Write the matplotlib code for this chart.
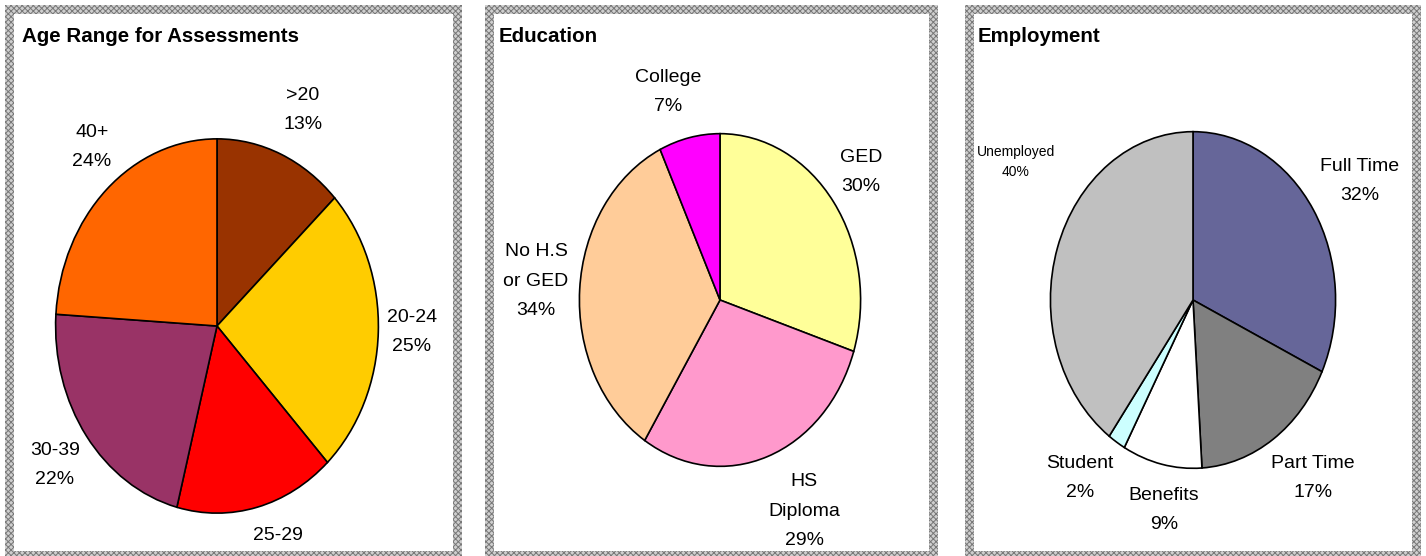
#!/usr/bin/env python3
"""Three pie panels: age range, education, employment."""

import matplotlib.pyplot as plt
from matplotlib.patches import Rectangle

plt.rcParams["font.family"] = ["Liberation Sans", "DejaVu Sans"]
plt.rcParams["hatch.linewidth"] = 0.7

W, H = 1426, 556

# data
age_labels = [">20", "20-24", "25-29", "30-39", "40+"]
age_values = [13, 25, 16, 22, 24]
age_colors = ["#993300", "#FFCC00", "#FF0000", "#993366", "#FF6600"]

edu_labels = ["GED", "HS\nDiploma", "No H.S\nor GED", "College"]
edu_values = [30, 29, 34, 7]
edu_colors = ["#FFFF99", "#FF99CC", "#FFCC99", "#FF00FF"]

emp_labels = ["Full Time", "Part Time", "Benefits", "Student", "Unemployed"]
emp_values = [32, 17, 9, 2, 40]
emp_colors = ["#666699", "#808080", "#FFFFFF", "#CCFFFF", "#C0C0C0"]

# layout (pixels)
panels = [
    dict(box=(5, 5, 462, 560), title="Age Range for Assessments", tx=22,
         center=(217, 326), axes=(163, 189),
         labels=age_labels, values=age_values, colors=age_colors,
         pos=[(303, 110), (412, 332), (278, 535), (55, 465), (92, 147)],
         show_pct=[True, True, False, True, True], small=[], spacing=1.86),
    dict(box=(485, 5, 938, 560), title="Education", tx=499,
         center=(720, 300), axes=(142, 168),
         labels=edu_labels, values=edu_values, colors=edu_colors,
         pos=[(861, 172), (804, 511), (536, 281), (668, 92)],
         show_pct=[True, True, True, True], small=[], spacing=1.98),
    dict(box=(965, 5, 1421, 560), title="Employment", tx=978,
         center=(1193, 300), axes=(144, 170),
         labels=emp_labels, values=emp_values, colors=emp_colors,
         pos=[(1360, 181), (1313, 478), (1164, 510), (1080, 478), (1016, 162)],
         show_pct=[True] * 5, small=[4], spacing=1.88),
]
BORDER = 9


def fx(x):
    return x / W


def fy(y):
    return 1 - y / H


fig = plt.figure(figsize=(W / 100, H / 100), dpi=100)
fig.patch.set_facecolor("white")

for p in panels:
    x0, y0, x1, y1 = p["box"]
    outer = Rectangle((fx(x0), fy(y1)), fx(x1 - x0), (y1 - y0) / H,
                      transform=fig.transFigure, facecolor="#cfcfcf",
                      edgecolor="#777777", hatch="xxxxxx", linewidth=0, zorder=-3)
    fig.add_artist(outer)
    inner = Rectangle((fx(x0 + BORDER), fy(y1 - BORDER)),
                      fx(x1 - x0 - 2 * BORDER), (y1 - y0 - 2 * BORDER) / H,
                      transform=fig.transFigure, facecolor="white",
                      edgecolor="none", zorder=-2)
    fig.add_artist(inner)

    fig.text(fx(p["tx"]), fy(37), p["title"], fontsize=14.8, fontweight="bold",
             ha="left", va="center")

    cx, cy = p["center"]
    a, b = p["axes"]
    ax = fig.add_axes([fx(cx - a), fy(cy + b), 2 * a / W, 2 * b / H])
    ax.pie(p["values"], colors=p["colors"], startangle=90, counterclock=False,
           radius=1, wedgeprops=dict(edgecolor="black", linewidth=1.2))
    ax.set_aspect("auto")
    ax.set_xlim(-1.01, 1.01)
    ax.set_ylim(-1.01, 1.01)
    ax.axis("off")

    for i, (lab, val) in enumerate(zip(p["labels"], p["values"])):
        txt = f"{lab}\n{val}%" if p["show_pct"][i] else lab
        small = i in p["small"]
        lx, ly = p["pos"][i]
        fig.text(fx(lx), fy(ly), txt, fontsize=10 if small else 14,
                 ha="center", va="center", multialignment="center",
                 linespacing=1.55 if small else p["spacing"])

fig.savefig("out.png", dpi=100)
